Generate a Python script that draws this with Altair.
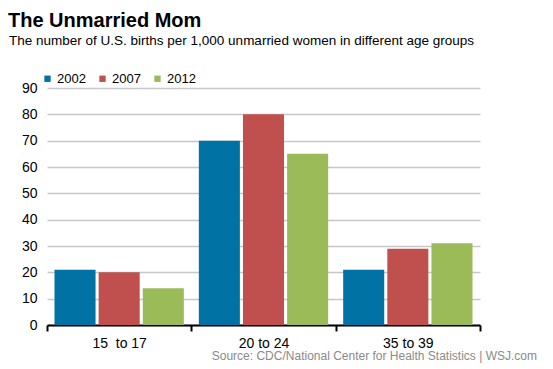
import altair as alt
import pandas as pd

groups = ["15\u00a0 to 17", "20 to 24", "35 to 39"]
years = ["2002", "2007", "2012"]
v2002 = [21, 70, 21]
v2007 = [20, 80, 29]
v2012 = [14, 65, 31]
colors = ["#0072A3", "#C0504D", "#9BBB59"]
y_ticks = [0, 10, 20, 30, 40, 50, 60, 70, 80, 90]

rows = []
for yr, vals in zip(years, [v2002, v2007, v2012]):
    for g, v in zip(groups, vals):
        rows.append({"group": g, "year": yr, "value": v})
df = pd.DataFrame(rows)

W, H = 433, 237

bars = alt.Chart(df).mark_bar().encode(
    x=alt.X("group:N", sort=groups, title=None,
            scale=alt.Scale(paddingInner=0, paddingOuter=0),
            axis=alt.Axis(labelAngle=0, labelFont="Liberation Sans", labelFontSize=14,
                          labelColor="#000", labelPadding=5, grid=False, gridOpacity=0,
                          domainColor="#000", domainWidth=2,
                          tickBand="extent", tickColor="#000", tickWidth=2, tickSize=6)),
    xOffset=alt.XOffset("year:N", sort=years,
                        scale=alt.Scale(paddingInner=0.07, paddingOuter=0.17)),
    y=alt.Y("value:Q", title=None,
            scale=alt.Scale(domain=[0, 90], nice=False),
            axis=alt.Axis(values=y_ticks, labelFont="Liberation Sans", labelFontSize=14,
                          labelColor="#000", labelPadding=10, ticks=False, domain=False,
                          gridColor="#c8c8c8", gridWidth=1.5)),
    color=alt.Color("year:N", sort=years,
                    scale=alt.Scale(domain=years, range=colors),
                    legend=alt.Legend(title=None, orient="none", direction="horizontal",
                                      legendX=-6, legendY=-16, symbolType="square",
                                      symbolSize=40, symbolStrokeWidth=0,
                                      labelFont="Liberation Sans", labelFontSize=13,
                                      labelColor="#000", columnPadding=10,
                                      labelOffset=3)),
)

txt = pd.DataFrame({"t": ["The Unmarried Mom"]})
title = alt.Chart(txt).mark_text(align="left", baseline="alphabetic", font="Liberation Sans",
                                 fontSize=20, fontWeight="bold", color="#000").encode(
    x=alt.value(-39), y=alt.value(-61), text="t:N")

sub = pd.DataFrame({"t": ["The number of U.S. births per 1,000 unmarried women in different age groups"]})
subtitle = alt.Chart(sub).mark_text(align="left", baseline="alphabetic", font="Liberation Sans",
                                    fontSize=13.5, color="#000").encode(
    x=alt.value(-38), y=alt.value(-43), text="t:N")

src = pd.DataFrame({"t": ["Source: CDC/National Center for Health Statistics  |  WSJ.com"]})
source = alt.Chart(src).mark_text(align="right", baseline="alphabetic", font="Liberation Sans",
                                  fontSize=12, color="#8a8a8a").encode(
    x=alt.value(490), y=alt.value(272), text="t:N")

chart = alt.layer(bars, title, subtitle, source).properties(
    width=W, height=H,
    autosize=alt.AutoSizeParams(type="none"),
    padding={"left": 39, "top": 80, "right": 60, "bottom": 40},
    view=alt.ViewBackground(stroke="transparent", strokeWidth=0),
).configure_view(strokeWidth=0, stroke="transparent").configure_axisX(
    grid=False
).configure(background="#ffffff")

chart.save("out.html", embed_options={"renderer": "svg", "actions": False})
